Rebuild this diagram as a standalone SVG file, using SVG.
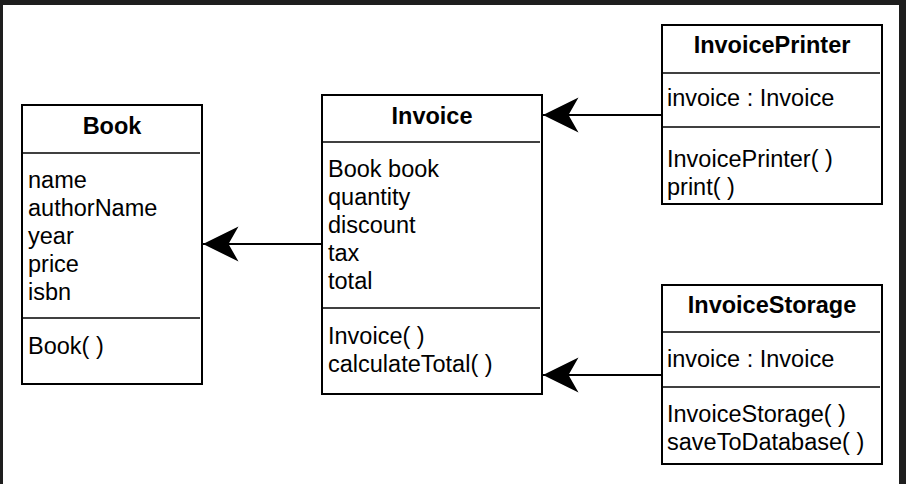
<svg xmlns="http://www.w3.org/2000/svg" width="906" height="484" viewBox="0 0 906 484">
<style>
.box{fill:#fff;stroke:#000;stroke-width:2}
.div{stroke:#000;stroke-width:1.5}
.t{font-family:"Liberation Sans",Arial,Helvetica,sans-serif;font-size:23.5px;fill:#000}
.b{font-weight:bold;text-anchor:middle}
.edge{stroke:#000;stroke-width:2;fill:none;marker-end:url(#arr)}
</style>
<defs>
<marker id="arr" markerUnits="userSpaceOnUse" markerWidth="40" markerHeight="40" viewBox="-38 -20 40 40" refX="0" refY="0" orient="auto">
<path d="M0,0 L-35.5,-17.5 L-25.5,0 L-35.5,17.5 Z" fill="#000"/>
</marker>
</defs>
<rect x="0" y="0" width="906" height="484" fill="#1e1e1e"/>
<rect x="3" y="5" width="896" height="479" fill="#fff"/>

<g id="connectors">
<line class="edge" x1="662" y1="115" x2="543" y2="115"/>
<line class="edge" x1="662" y1="375" x2="543" y2="375"/>
<line class="edge" x1="322" y1="244" x2="203" y2="244"/>
</g>

<g id="Book">
<rect class="box" x="22" y="105" width="180" height="279"/>
<line class="div" x1="22" y1="153" x2="200" y2="153"/>
<line class="div" x1="22" y1="318" x2="200" y2="318"/>
<text class="t b" x="112" y="134">Book</text>
<text class="t" x="28" y="188">name</text>
<text class="t" x="28" y="216">authorName</text>
<text class="t" x="28" y="244">year</text>
<text class="t" x="28" y="272">price</text>
<text class="t" x="28" y="300">isbn</text>
<text class="t" x="28" y="354">Book( )</text>
</g>

<g id="Invoice">
<rect class="box" x="322" y="95" width="220" height="299"/>
<line class="div" x1="322" y1="142" x2="540" y2="142"/>
<line class="div" x1="322" y1="308" x2="540" y2="308"/>
<text class="t b" x="432" y="124">Invoice</text>
<text class="t" x="328" y="177">Book book</text>
<text class="t" x="328" y="205">quantity</text>
<text class="t" x="328" y="233">discount</text>
<text class="t" x="328" y="261">tax</text>
<text class="t" x="328" y="289">total</text>
<text class="t" x="328" y="344">Invoice( )</text>
<text class="t" x="328" y="372">calculateTotal( )</text>
</g>

<g id="InvoicePrinter">
<rect class="box" x="662" y="25" width="220" height="179"/>
<line class="div" x1="662" y1="73" x2="880" y2="73"/>
<line class="div" x1="662" y1="127" x2="880" y2="127"/>
<text class="t b" x="772" y="53">InvoicePrinter</text>
<text class="t" x="667" y="106">invoice : Invoice</text>
<text class="t" x="667" y="167">InvoicePrinter( )</text>
<text class="t" x="667" y="195">print( )</text>
</g>

<g id="InvoiceStorage">
<rect class="box" x="662" y="285" width="220" height="179"/>
<line class="div" x1="662" y1="332" x2="880" y2="332"/>
<line class="div" x1="662" y1="387" x2="880" y2="387"/>
<text class="t b" x="772" y="313">InvoiceStorage</text>
<text class="t" x="667" y="367">invoice : Invoice</text>
<text class="t" x="667" y="422">InvoiceStorage( )</text>
<text class="t" x="667" y="450">saveToDatabase( )</text>
</g>
</svg>
